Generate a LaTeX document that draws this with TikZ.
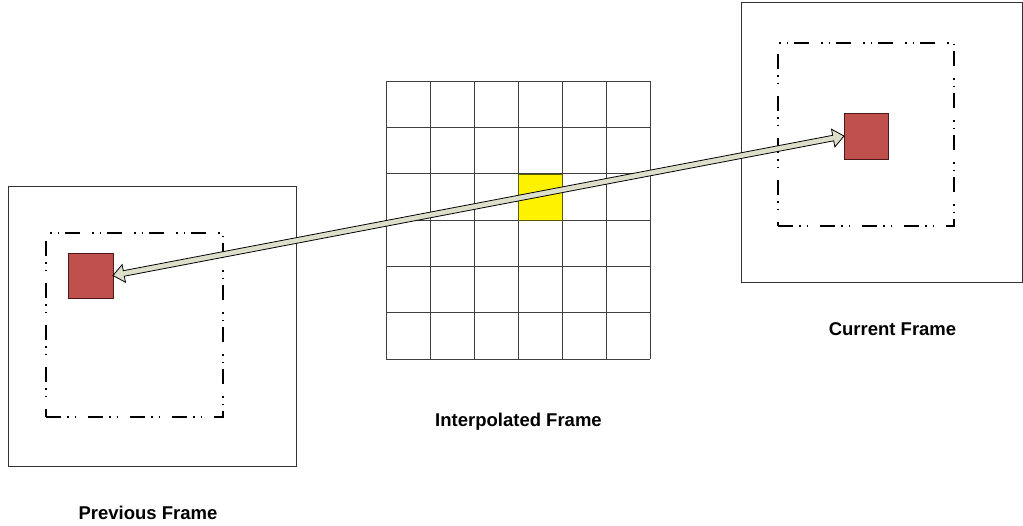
\documentclass[tikz,border=0pt]{standalone}
\usepackage{fontspec}
\setmainfont{Liberation Sans}
\usetikzlibrary{calc}
\definecolor{redsq}{HTML}{C0504D}
\definecolor{redline}{HTML}{4A1A18}
\definecolor{arrowfill}{HTML}{DDDFCA}
\definecolor{gridline}{HTML}{404040}
\definecolor{yellowline}{HTML}{5A5A00}
\tikzset{
 framebox/.style={draw=black!80, line width=1pt, inner sep=0pt, outer sep=0pt},
 windowbox/.style={draw=black, line width=2pt, dash pattern=on 15pt off 6pt on 1.5pt off 6pt on 1.5pt off 12pt, inner sep=0pt, outer sep=0pt},
 blockbox/.style={fill=redsq, draw=redline, line width=1pt, inner sep=0pt, outer sep=0pt},
 cellbox/.style={fill=yellow, draw=yellowline, line width=1pt, inner sep=0pt, outer sep=0pt},
 gridstyle/.style={draw=gridline, line width=1pt},
 caption/.style={font=\fontsize{18.5}{22}\selectfont\bfseries, anchor=base, inner sep=0pt},
 arrowbody/.style={fill=arrowfill, draw=black, line width=0.8pt, line join=miter},
}
\begin{document}
\begin{tikzpicture}[x=1pt,y=-1pt]
\useasboundingbox (0,0) rectangle (1023,525);

% previous frame
\node[framebox, minimum width=288pt, minimum height=280pt] (prevframe) at (152,326) {};
\node[windowbox, minimum width=177pt, minimum height=184pt] (prevwin) at (134.5,325) {};
\node[blockbox, minimum width=45pt, minimum height=45pt] (prevblock) at (90.5,275.5) {};

% current frame
\node[framebox, minimum width=281pt, minimum height=280pt] (curframe) at (881.5,142) {};
\node[windowbox, minimum width=176pt, minimum height=183pt] (curwin) at (866,134.5) {};
\node[blockbox, minimum width=44pt, minimum height=46pt] (curblock) at (866,136) {};

% interpolated frame grid
\foreach \i in {0,...,6} {
  \draw[gridstyle] ({386+44*\i},81) -- ({386+44*\i},359);
  \draw[gridstyle] (386,{81+46.333*\i}) -- (650,{81+46.333*\i});
}
\node[cellbox, minimum width=44pt, minimum height=46.333pt] (cell) at (540,197.17) {};

% double arrow
\coordinate (A) at (prevblock.east);
\coordinate (B) at (curblock.west);
\coordinate (PA) at ($(A)!11pt!(B)$);
\coordinate (PB) at ($(B)!11pt!(A)$);
\coordinate (A1) at ($(PA)!9pt!90:(B)$);
\coordinate (A2) at ($(PA)!2.8pt!90:(B)$);
\coordinate (A3) at ($(PA)!2.8pt!-90:(B)$);
\coordinate (A4) at ($(PA)!9pt!-90:(B)$);
\coordinate (B1) at ($(PB)!9pt!-90:(A)$);
\coordinate (B2) at ($(PB)!2.8pt!-90:(A)$);
\coordinate (B3) at ($(PB)!2.8pt!90:(A)$);
\coordinate (B4) at ($(PB)!9pt!90:(A)$);
\draw[arrowbody] (A) -- (A1) -- (A2) -- (B2) -- (B1) -- (B) -- (B4) -- (B3) -- (A3) -- (A4) -- cycle;

% labels
\node[caption] (prevlabel) at (148,519) {Previous Frame};
\node[caption] (interlabel) at (518.5,426) {Interpolated Frame};
\node[caption] (curlabel) at (892.5,335) {Current Frame};
\end{tikzpicture}
\end{document}
